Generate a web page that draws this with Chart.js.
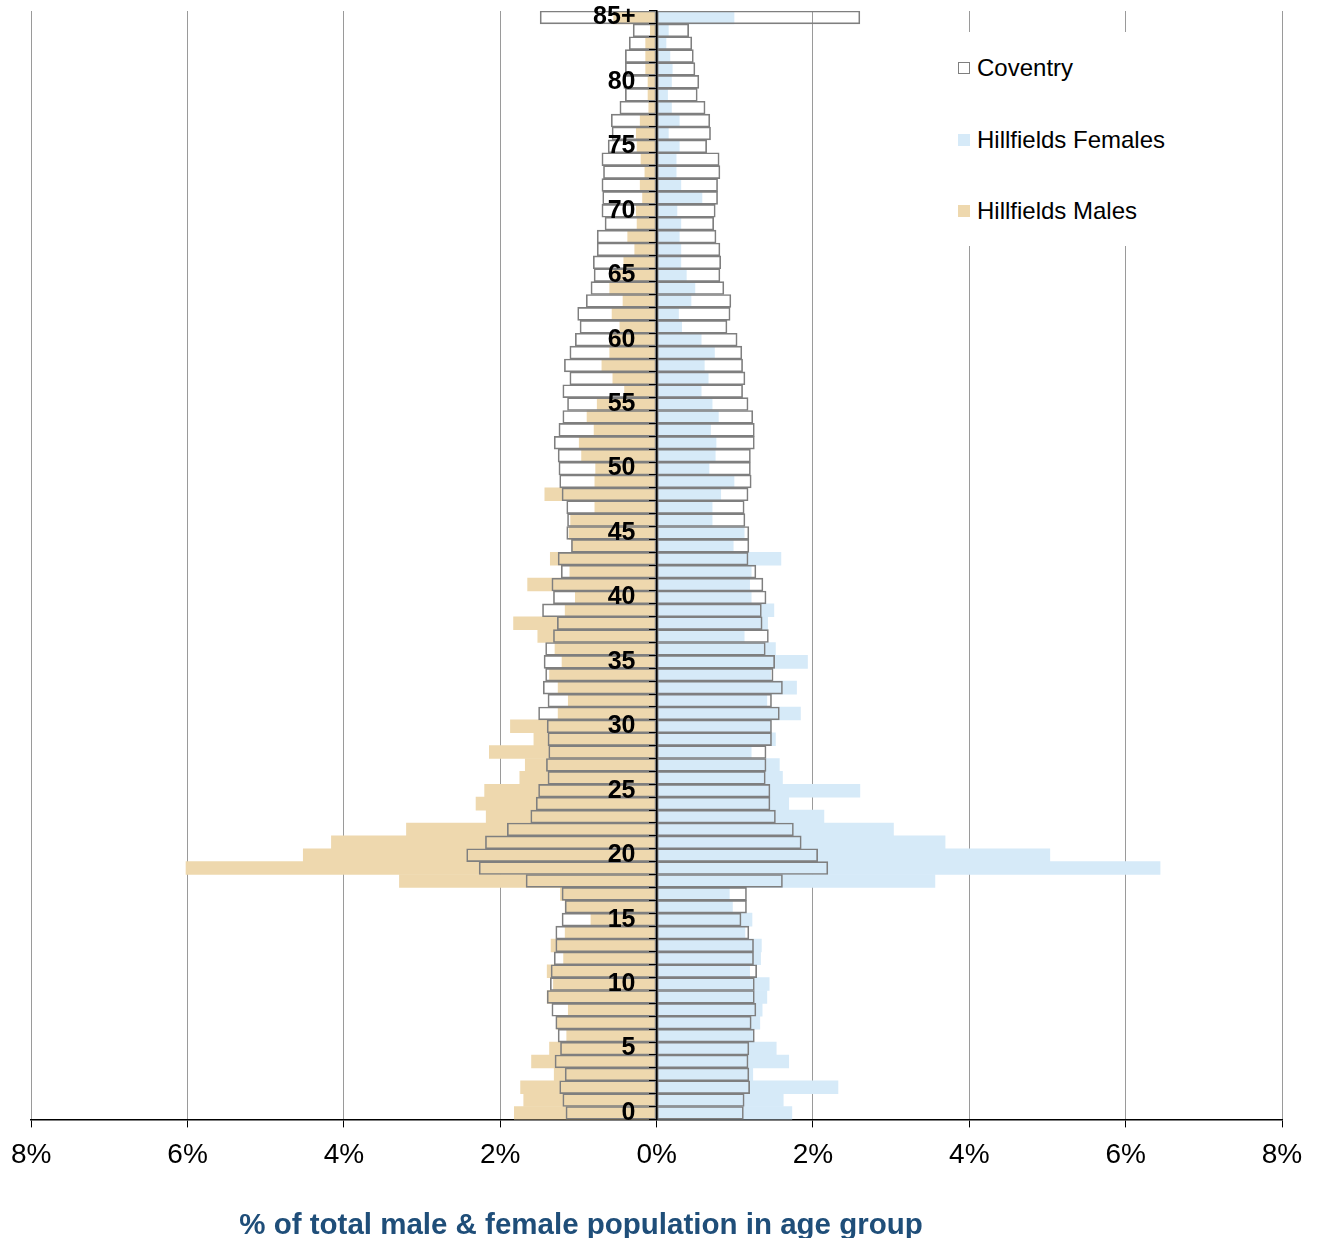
<!DOCTYPE html>
<html>
<head>
<meta charset="utf-8">
<title>Hillfields population pyramid</title>
<script src="https://cdn.jsdelivr.net/npm/chart.js"></script>
<style>
  body { margin: 0; background: #fff; }
  #wrap { position: relative; width: 1320px; height: 1238px; overflow: hidden; font-family: 'Liberation Sans', Arial, sans-serif; }
  #legend { position: absolute; left: 950px; top: 32px; width: 232px; height: 214px; background: #fff; }
  .item { position: absolute; left: 8px; font-size: 24px; line-height: 28px; color: #000; }
  .swatch { position: absolute; left: 0; top: 8px; width: 12px; height: 12px; box-sizing: border-box; }
  .item span { position: absolute; left: 19px; top: 0; white-space: nowrap; }
  #xtitle { position: absolute; left: 0; top: 1207px; width: 1162px; text-align: center;
            font-size: 29.5px; line-height: 34px; font-weight: bold; color: #1F4E79; }
</style>
</head>
<body>
<div id="wrap">
  <canvas id="pyramid"></canvas>
  <div id="legend">
    <div class="item" style="top:22px"><div class="swatch" style="border:1px solid #7f7f7f;background:#fff"></div><span>Coventry</span></div>
    <div class="item" style="top:94px"><div class="swatch" style="background:#d6eaf8"></div><span>Hillfields Females</span></div>
    <div class="item" style="top:165px"><div class="swatch" style="background:#eed8ae"></div><span>Hillfields Males</span></div>
  </div>
  <div id="xtitle">% of total male &amp; female population in age group</div>
</div>
<script>
// age groups, single years 0..84 then 85+
const ages = Array.from({length: 85}, (_, i) => String(i)).concat(['85+']);

// % of total population (males shown on the left)
const coventryMales = [
  1.16, 1.20, 1.24, 1.17, 1.30, 1.23, 1.26, 1.29, 1.34, 1.40,
  1.36, 1.35, 1.31, 1.29, 1.29, 1.21, 1.17, 1.21, 1.67, 2.27,
  2.43, 2.19, 1.91, 1.61, 1.54, 1.51, 1.39, 1.41, 1.38, 1.39,
  1.40, 1.51, 1.39, 1.45, 1.42, 1.44, 1.42, 1.32, 1.27, 1.46,
  1.32, 1.34, 1.22, 1.26, 1.09, 1.15, 1.14, 1.15, 1.21, 1.24,
  1.25, 1.26, 1.31, 1.25, 1.20, 1.14, 1.20, 1.11, 1.18, 1.11,
  1.04, 0.98, 1.01, 0.90, 0.84, 0.80, 0.81, 0.76, 0.76, 0.66,
  0.70, 0.69, 0.70, 0.68, 0.70, 0.62, 0.57, 0.58, 0.47, 0.40,
  0.42, 0.40, 0.40, 0.35, 0.30, 1.49
];
const coventryFemales = [
  1.11, 1.12, 1.19, 1.18, 1.17, 1.18, 1.25, 1.21, 1.27, 1.25,
  1.25, 1.28, 1.24, 1.24, 1.18, 1.08, 1.15, 1.15, 1.61, 2.19,
  2.06, 1.85, 1.75, 1.52, 1.45, 1.45, 1.39, 1.40, 1.40, 1.47,
  1.47, 1.57, 1.47, 1.61, 1.49, 1.51, 1.39, 1.43, 1.35, 1.34,
  1.40, 1.36, 1.27, 1.17, 1.18, 1.18, 1.13, 1.12, 1.17, 1.21,
  1.20, 1.20, 1.25, 1.25, 1.23, 1.17, 1.10, 1.13, 1.10, 1.09,
  1.03, 0.90, 0.94, 0.95, 0.86, 0.81, 0.82, 0.81, 0.76, 0.73,
  0.75, 0.78, 0.78, 0.81, 0.80, 0.64, 0.69, 0.68, 0.62, 0.52,
  0.54, 0.49, 0.47, 0.45, 0.41, 2.60
];
const hillfieldsMales = [
  1.82, 1.70, 1.74, 1.31, 1.60, 1.37, 1.15, 1.28, 1.13, 1.40,
  1.32, 1.40, 1.19, 1.35, 1.17, 0.84, 1.17, 1.23, 3.29, 6.02,
  4.52, 4.16, 3.20, 2.18, 2.31, 2.20, 1.75, 1.68, 2.14, 1.57,
  1.87, 1.26, 1.13, 1.26, 1.37, 1.21, 1.30, 1.52, 1.83, 1.17,
  1.04, 1.65, 1.11, 1.36, 1.08, 1.12, 1.10, 0.79, 1.43, 0.79,
  0.78, 0.96, 0.99, 0.80, 0.89, 0.76, 0.41, 0.56, 0.70, 0.60,
  0.60, 0.47, 0.57, 0.43, 0.60, 0.57, 0.42, 0.28, 0.37, 0.25,
  0.26, 0.18, 0.21, 0.15, 0.20, 0.25, 0.26, 0.21, 0.10, 0.11,
  0.11, 0.14, 0.14, 0.14, 0.08, 0.55
];
const hillfieldsFemales = [
  1.73, 1.62, 2.32, 1.23, 1.69, 1.53, 1.23, 1.32, 1.35, 1.41,
  1.44, 1.19, 1.33, 1.34, 1.13, 1.22, 0.97, 0.93, 3.56, 6.44,
  5.03, 3.69, 3.03, 2.14, 1.69, 2.60, 1.61, 1.57, 1.21, 1.52,
  1.46, 1.84, 1.41, 1.79, 1.46, 1.93, 1.52, 1.12, 1.42, 1.50,
  1.21, 1.19, 1.21, 1.59, 0.98, 1.12, 0.71, 0.71, 0.82, 0.99,
  0.67, 0.75, 0.76, 0.69, 0.79, 0.71, 0.57, 0.66, 0.61, 0.74,
  0.57, 0.32, 0.28, 0.44, 0.49, 0.38, 0.31, 0.31, 0.29, 0.31,
  0.26, 0.58, 0.31, 0.25, 0.25, 0.29, 0.15, 0.29, 0.19, 0.14,
  0.19, 0.20, 0.17, 0.12, 0.15, 0.99
];

const FONT = "'Liberation Sans', Arial, sans-serif";
const TAN = '#eed8ae';
const BLUE = '#d6eaf8';
const OUTLINE = '#7f7f7f';

Chart.defaults.font.family = FONT;
Chart.defaults.color = '#000';

// bars sit on top of each other in one row per age (no grouping)
const barBase = { grouped: false, barPercentage: 1, categoryPercentage: 1 };

const ctx = document.getElementById('pyramid').getContext('2d');
const pyramid = new Chart(ctx, {
    type: 'bar',
    data: {
        labels: ages,
        datasets: [
            { ...barBase, label: 'Coventry', data: coventryMales.map(v => -v), order: 0,
              backgroundColor: 'rgba(255,255,255,0)', borderColor: OUTLINE, borderWidth: 1, borderSkipped: false },
            { ...barBase, label: 'Coventry', data: coventryFemales, order: 0,
              backgroundColor: 'rgba(255,255,255,0)', borderColor: OUTLINE, borderWidth: 1, borderSkipped: false },
            { ...barBase, label: 'Hillfields Females', data: hillfieldsFemales, order: 1,
              backgroundColor: BLUE, borderWidth: 0 },
            { ...barBase, label: 'Hillfields Males', data: hillfieldsMales.map(v => -v), order: 1,
              backgroundColor: TAN, borderWidth: 0 }
        ]
    },
    options: {
        indexAxis: 'y',
        responsive: true,
        maintainAspectRatio: false,
        animation: false,
        layout: { padding: { top: 11, right: 38, left: 13, bottom: 55 } },
        plugins: { legend: { display: false }, tooltip: { enabled: false } },
        scales: {
            x: {
                min: -8,
                max: 8,
                ticks: {
                    stepSize: 2,
                    padding: 11,
                    font: { size: 28 },
                    callback: (v) => Math.abs(v) + '%'
                },
                grid: { color: '#9a9a9a', lineWidth: 1, tickLength: 8, tickColor: '#000' },
                border: { color: '#000', width: 1.5 }
            },
            // zero line with tick marks between the ages, drawn over the bars
            y: {
                type: 'category',
                reverse: true,
                offset: true,
                position: { x: 0 },
                grid: { drawOnChartArea: false, drawTicks: true, tickLength: 7, tickColor: '#000', offset: true, z: 1 },
                border: { color: '#000', width: 1.5, z: 1 },
                ticks: { display: false, autoSkip: false }
            },
            // age labels every 5 years, a little left of the zero line
            yLabels: {
                type: 'category',
                labels: ages,
                reverse: true,
                offset: true,
                position: { x: -0.27 },
                grid: { display: false },
                border: { display: false },
                ticks: {
                    z: 1,
                    autoSkip: false,
                    padding: 0,
                    font: { size: 25, weight: 'bold', lineHeight: 0.7 },
                    callback: (v, i) => (i % 5 === 0 ? ages[i] : '')
                }
            }
        }
    }
});
</script>
</body>
</html>
